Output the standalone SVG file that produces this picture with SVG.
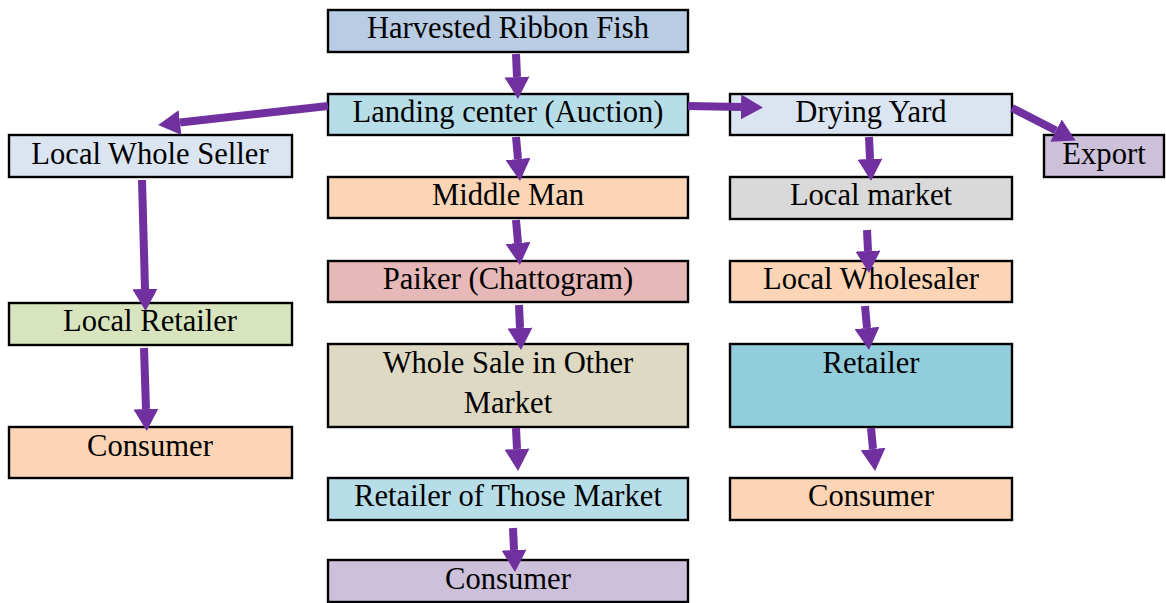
<svg xmlns="http://www.w3.org/2000/svg" width="1166" height="603" viewBox="0 0 1166 603">
  <style>
    .box { stroke: #000; stroke-width: 2.4; }
    .lbl { font-family: 'Liberation Serif', 'Times New Roman', Times, serif; font-size: 30.6px; fill: #000; text-anchor: middle; }
    .arrow { stroke: #7030A0; stroke-width: 8; fill: none; stroke-linecap: butt; marker-end: url(#head); }
  </style>
  <defs>
    <marker id="head" markerUnits="userSpaceOnUse" markerWidth="22" markerHeight="25" viewBox="0 0 22 25" refX="0" refY="12.5" orient="auto">
      <path d="M0,0 L22,12.5 L0,25 Z" fill="#7030A0"/>
    </marker>
  </defs>
  <rect width="1166" height="603" fill="#fff"/>

  <!-- centre column -->
  <g id="harvested">
    <rect class="box" x="328" y="10" width="360" height="42" fill="#B8CCE4"/>
    <text class="lbl" x="508" y="38">Harvested Ribbon Fish</text>
  </g>
  <g id="landing">
    <rect class="box" x="328" y="94" width="360" height="41" fill="#B7DEE8"/>
    <text class="lbl" x="508" y="122">Landing center (Auction)</text>
  </g>
  <g id="middleman">
    <rect class="box" x="328" y="177" width="360" height="41" fill="#FBD5B5"/>
    <text class="lbl" x="508" y="205">Middle Man</text>
  </g>
  <g id="paiker">
    <rect class="box" x="328" y="261" width="360" height="41" fill="#E6B9B8"/>
    <text class="lbl" x="508" y="289">Paiker (Chattogram)</text>
  </g>
  <g id="wholesale-other">
    <rect class="box" x="328" y="344" width="360" height="83" fill="#DDD9C3"/>
    <text class="lbl" x="508" y="373">Whole Sale in Other</text>
    <text class="lbl" x="508" y="413">Market</text>
  </g>
  <g id="retailer-those">
    <rect class="box" x="328" y="478" width="360" height="42" fill="#B7DEE8"/>
    <text class="lbl" x="508" y="506">Retailer of Those Market</text>
  </g>
  <g id="consumer-centre">
    <rect class="box" x="328" y="560" width="360" height="42" fill="#CCC0DA"/>
    <text class="lbl" x="508" y="589">Consumer</text>
  </g>

  <!-- left column -->
  <g id="local-whole-seller">
    <rect class="box" x="9" y="135" width="283" height="42" fill="#DBE5F1"/>
    <text class="lbl" x="150" y="164">Local Whole Seller</text>
  </g>
  <g id="local-retailer">
    <rect class="box" x="9" y="303" width="283" height="42" fill="#D7E4BD"/>
    <text class="lbl" x="150" y="331">Local Retailer</text>
  </g>
  <g id="consumer-left">
    <rect class="box" x="9" y="427" width="283" height="51" fill="#FBD5B5"/>
    <text class="lbl" x="150" y="456">Consumer</text>
  </g>

  <!-- right column -->
  <g id="drying-yard">
    <rect class="box" x="730" y="94" width="282" height="41" fill="#DBE5F1"/>
    <text class="lbl" x="871" y="122">Drying Yard</text>
  </g>
  <g id="export">
    <rect class="box" x="1044" y="135" width="120" height="42" fill="#CCC0DA"/>
    <text class="lbl" x="1104" y="164">Export</text>
  </g>
  <g id="local-market">
    <rect class="box" x="730" y="177" width="282" height="42" fill="#D9D9D9"/>
    <text class="lbl" x="871" y="205">Local market</text>
  </g>
  <g id="local-wholesaler">
    <rect class="box" x="730" y="261" width="282" height="41" fill="#FBD5B5"/>
    <text class="lbl" x="871" y="289">Local Wholesaler</text>
  </g>
  <g id="retailer">
    <rect class="box" x="730" y="344" width="282" height="83" fill="#92CDDC"/>
    <text class="lbl" x="871" y="373">Retailer</text>
  </g>
  <g id="consumer-right">
    <rect class="box" x="730" y="478" width="282" height="42" fill="#FBD5B5"/>
    <text class="lbl" x="871" y="506">Consumer</text>
  </g>

  <!-- flow connectors -->
  <g id="connectors">
    <path class="arrow" d="M516,54 L517,77"/>
    <path class="arrow" d="M516,137 L518,159"/>
    <path class="arrow" d="M516,220 L518,243"/>
    <path class="arrow" d="M519,305 L520,328"/>
    <path class="arrow" d="M516,428 L517,449"/>
    <path class="arrow" d="M513,528 L514,550"/>

    <path class="arrow" d="M328,106 L180,122.6"/>
    <path class="arrow" d="M142,180 L145,289"/>
    <path class="arrow" d="M144,348 L146,409"/>

    <path class="arrow" d="M688,106 L741,107"/>
    <path class="arrow" d="M1012,108 L1056,130.5"/>
    <path class="arrow" d="M869,137 L870,159"/>
    <path class="arrow" d="M867,230 L868,251"/>
    <path class="arrow" d="M865,306 L867,328"/>
    <path class="arrow" d="M871,428 L873,449"/>
  </g>
</svg>
